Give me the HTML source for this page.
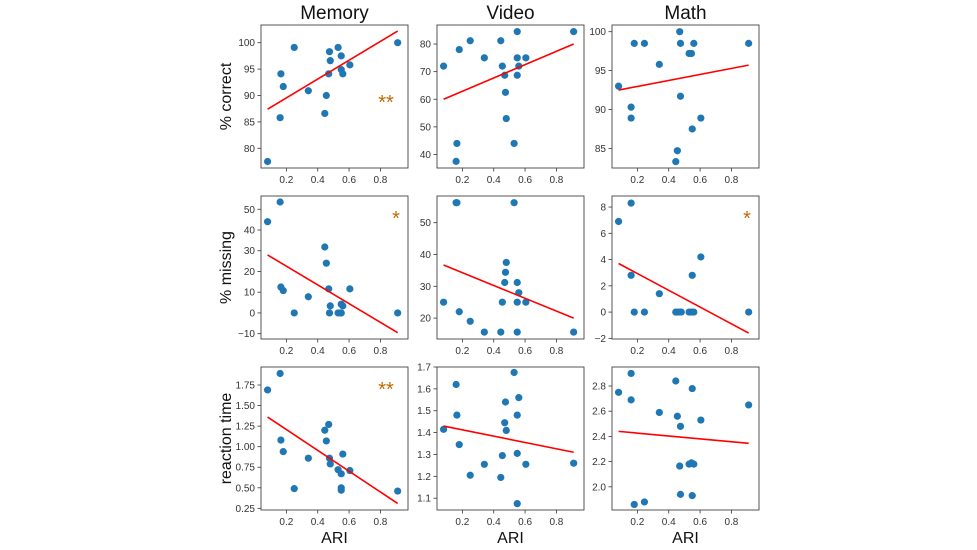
<!DOCTYPE html>
<html><head><meta charset="utf-8"><style>
html,body{margin:0;padding:0;background:#fff;}
svg{display:block;font-family:"Liberation Sans","DejaVu Sans",sans-serif;}
</style></head><body>
<svg id="chart" width="977" height="550" viewBox="0 0 977 550" xmlns="http://www.w3.org/2000/svg"></svg>
<script>
// ---- data ----
const colTitles = ["Memory", "Video", "Math"];
const rowTitles = ["% correct", "% missing", "reaction time"];
const xTicks = [0.2, 0.4, 0.6, 0.8];
const xDomain = [0.038, 0.976];

// row 1: % correct
const memCorrX = [0.08,0.16,0.165,0.18,0.25,0.34,0.445,0.455,0.47,0.475,0.48,0.53,0.55,0.55,0.56,0.605,0.91];
const memCorrY = [77.5,85.8,94.1,91.7,99.1,90.9,86.6,90.0,94.1,98.3,96.6,99.1,97.5,94.9,94.1,95.8,100];
const vidCorrX = [0.08,0.16,0.165,0.18,0.25,0.34,0.445,0.455,0.47,0.475,0.48,0.53,0.55,0.55,0.55,0.56,0.605,0.91];
const vidCorrY = [72,37.5,44,78,81.2,75,81.2,72,68.7,62.5,53,44,84.5,75,68.7,72,75,84.5];
const mathCorrX = [0.08,0.16,0.16,0.18,0.245,0.34,0.445,0.455,0.47,0.475,0.475,0.53,0.545,0.55,0.56,0.605,0.91];
const mathCorrY = [93,90.3,88.9,98.5,98.5,95.8,83.3,84.7,100,98.5,91.7,97.2,97.2,87.5,98.5,88.9,98.5];

// row 2: % missing
const memMissX = [0.08,0.16,0.165,0.18,0.25,0.34,0.445,0.455,0.47,0.475,0.48,0.53,0.545,0.55,0.55,0.56,0.605,0.91];
const memMissY = [44,53.5,12.5,10.8,0,7.8,31.8,24,11.6,0,3.4,0,0,4.2,0,3.4,11.6,0];
const vidMissX = [0.08,0.16,0.165,0.18,0.25,0.34,0.445,0.455,0.47,0.475,0.48,0.53,0.55,0.55,0.55,0.56,0.605,0.91];
const vidMissY = [25,56.3,56.3,22,19,15.6,15.6,25,31.2,34.4,37.5,56.3,31.2,25,15.6,28,25,15.6];
const mathMissX = [0.08,0.16,0.16,0.18,0.245,0.34,0.445,0.455,0.47,0.48,0.53,0.545,0.55,0.56,0.605,0.91];
const mathMissY = [6.9,8.3,2.8,0,0,1.4,0,0,0,0,0,0,2.8,0,4.2,0];

// row 3: reaction time
const memRtX = [0.08,0.16,0.165,0.18,0.25,0.34,0.445,0.455,0.47,0.475,0.48,0.53,0.55,0.55,0.55,0.56,0.605,0.91];
const memRtY = [1.69,1.89,1.08,0.94,0.49,0.86,1.2,1.07,1.27,0.86,0.79,0.72,0.67,0.50,0.47,0.91,0.71,0.46];
const vidRtX = [0.08,0.16,0.165,0.18,0.25,0.34,0.445,0.455,0.47,0.475,0.48,0.53,0.55,0.55,0.55,0.56,0.605,0.91];
const vidRtY = [1.415,1.62,1.48,1.345,1.205,1.255,1.195,1.295,1.445,1.54,1.41,1.675,1.48,1.305,1.075,1.56,1.255,1.26];
const mathRtX = [0.08,0.16,0.16,0.18,0.245,0.34,0.445,0.455,0.47,0.475,0.475,0.53,0.545,0.55,0.55,0.56,0.605,0.91];
const mathRtY = [2.75,2.9,2.69,1.86,1.88,2.59,2.84,2.56,2.165,2.48,1.94,2.18,2.19,2.78,1.93,2.18,2.53,2.65];

// regression line endpoints (x = 0.08 and 0.91)
const fitX = [0.08, 0.91];
const memCorrFit = [87.4, 102.2];
const vidCorrFit = [60, 80];
const mathCorrFit = [92.5, 95.7];
const memMissFit = [28, -9.5];
const vidMissFit = [36.7, 20];
const mathMissFit = [3.7, -1.6];
const memRtFit = [1.36, 0.31];
const vidRtFit = [1.43, 1.31];
const mathRtFit = [2.44, 2.345];

// y domains and tick labels
const yDomains = [[76.27,103.35],[35.1,86.9],[82.48,100.86],[-12.57,56.4],[13.43,58.4],[-2.05,8.84],[0.23,1.969],[1.046,1.7],[1.816,2.951]];
const yTicks = [[80,85,90,95,100],[40,50,60,70,80],[85,90,95,100],[-10,0,10,20,30,40,50],[20,30,40,50],[-2,0,2,4,6,8],
  [0.25,0.5,0.75,1.0,1.25,1.5,1.75],[1.1,1.2,1.3,1.4,1.5,1.6,1.7],[2.0,2.2,2.4,2.6,2.8]];
const yTickLabels = [["80","85","90","95","100"],["40","50","60","70","80"],["85","90","95","100"],["−10","0","10","20","30","40","50"],["20","30","40","50"],["−2","0","2","4","6","8"],
  ["0.25","0.50","0.75","1.00","1.25","1.50","1.75"],["1.1","1.2","1.3","1.4","1.5","1.6","1.7"],["2.0","2.2","2.4","2.6","2.8"]];
const significance = ["**","","","*","","*","**","",""];

const seriesX = [memCorrX,vidCorrX,mathCorrX,memMissX,vidMissX,mathMissX,memRtX,vidRtX,mathRtX];
const seriesY = [memCorrY,vidCorrY,mathCorrY,memMissY,vidMissY,mathMissY,memRtY,vidRtY,mathRtY];
const fits = [memCorrFit,vidCorrFit,mathCorrFit,memMissFit,vidMissFit,mathMissFit,memRtFit,vidRtFit,mathRtFit];

// ---- layout ----
const colLeft = [261, 437, 612];
const rowTop = [25, 196, 367];
const PW = 147, PH = 143;
const NS = "http://www.w3.org/2000/svg";
const svg = document.getElementById("chart");
function mk(tag, attrs, parent, text) {
  const e = document.createElementNS(NS, tag);
  for (const k in attrs) e.setAttribute(k, attrs[k]);
  if (text !== undefined) e.textContent = text;
  (parent || svg).appendChild(e);
  return e;
}
const names = ["correct","missing","rt"];
for (let r = 0; r < 3; r++) {
  for (let c = 0; c < 3; c++) {
    const i = r * 3 + c;
    const L = colLeft[c], T = rowTop[r];
    const g = mk("g", {});
    
    
    const xs = v => L + (v - xDomain[0]) / (xDomain[1] - xDomain[0]) * PW;
    const yd = yDomains[i];
    const ys = v => T + PH - (v - yd[0]) / (yd[1] - yd[0]) * PH;
    // x ticks
    xTicks.forEach(t => {
      const x = xs(t);
      mk("line", {x1:x, x2:x, y1:T+PH, y2:T+PH+3.5, stroke:"#333", "stroke-width":0.8}, g);
      const tl = mk("text", {x:x, y:T+PH+15, "font-size":10, fill:"#333", "text-anchor":"middle"}, g, t.toFixed(1));
      
      
    });
    // y ticks
    yTicks[i].forEach((t, k) => {
      const y = ys(t);
      mk("line", {x1:L-3.5, x2:L, y1:y, y2:y, stroke:"#333", "stroke-width":0.8}, g);
      const tl = mk("text", {x:L-6, y:y+3.5, "font-size":10, fill:"#333", "text-anchor":"end"}, g, yTickLabels[i][k]);
      
      
    });
    // points
    const X = seriesX[i], Y = seriesY[i];
    for (let j = 0; j < X.length; j++) {
      const p = mk("circle", {cx:xs(X[j]), cy:ys(Y[j]), r:3.6, fill:"#1f77b4"}, g);
      
      
    }
    // fit line
    const f = fits[i];
    const ln = mk("line", {x1:xs(fitX[0]), y1:ys(f[0]), x2:xs(fitX[1]), y2:ys(f[1]), stroke:"#ff0000", "stroke-width":1.6}, g);
    
    
    // frame
    const fr = mk("rect", {x:L, y:T, width:PW, height:PH, fill:"none", stroke:"#444", "stroke-width":0.9}, g);
    
    
    // significance
    if (significance[i]) {
      const sx = significance[i] === "**" ? L + 125 : L + 135;
      const st = mk("text", {x:sx, y:T + (r===0 ? 84 : 29), "font-size":20, fill:"#c06a00", "text-anchor":"middle"}, g, significance[i]);
      
      
    }
    if (r === 0) {
      const ct = mk("text", {x:L + PW/2, y:T-6, "font-size":19, fill:"#111", "text-anchor":"middle"}, g, colTitles[c]);
      
      
    }
    if (r === 2) {
      const xt = mk("text", {x:L + PW/2, y:543, "font-size":16, fill:"#111", "text-anchor":"middle"}, g, "ARI");
      
      
    }
    if (c === 0) {
      const cy = T + PH/2;
      const yt = mk("text", {x:231, y:cy, "font-size":16, fill:"#111", "text-anchor":"middle", transform:"rotate(-90 231 " + cy + ")"}, g, rowTitles[r]);
      
      
    }
  }
}
</script>
</body></html>
